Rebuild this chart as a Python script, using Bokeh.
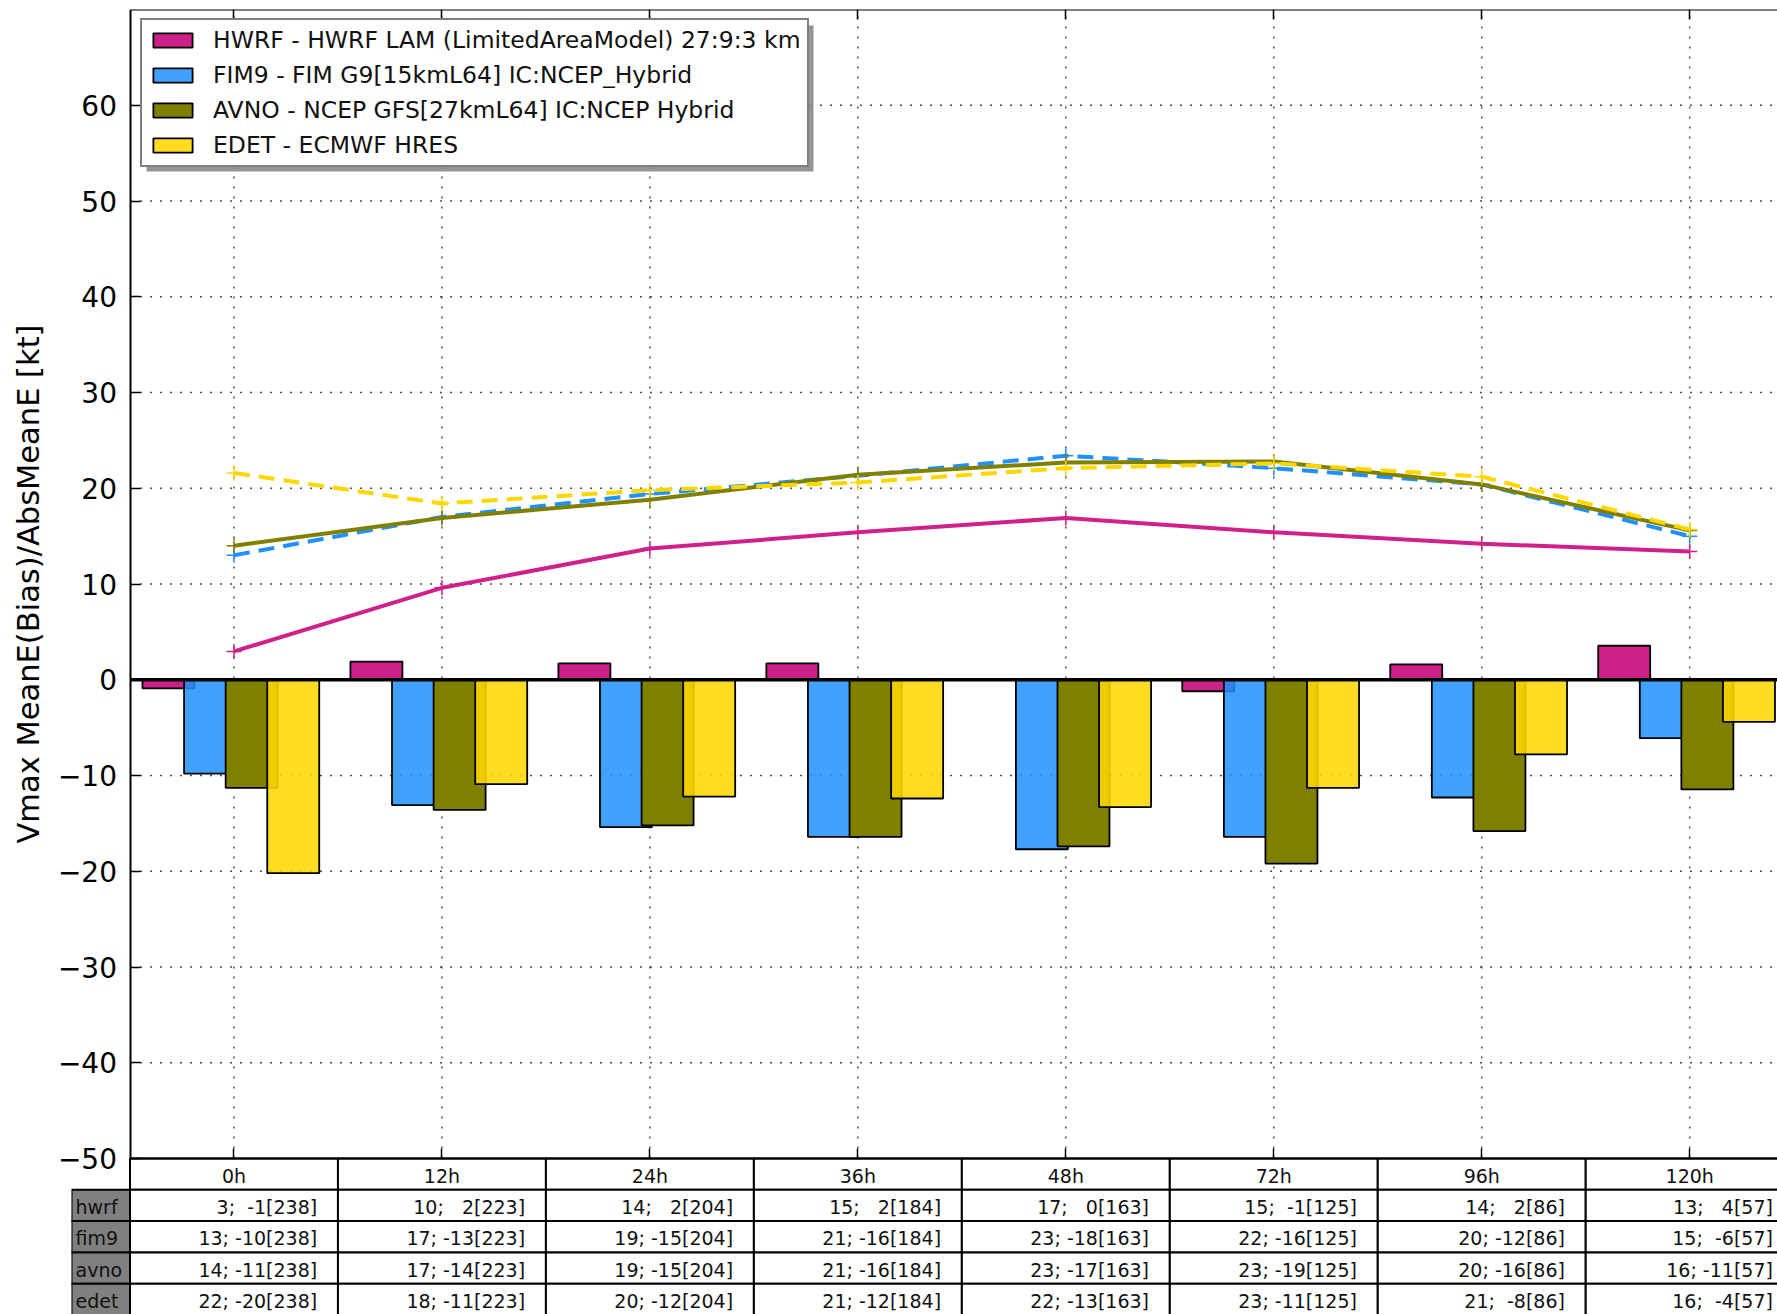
import math

from bokeh.core.properties import value
from bokeh.embed import file_html
from bokeh.models import (BoxAnnotation, ColumnDataSource, CustomJSTickFormatter,
                          FixedTicker, Legend, LegendItem, LinearAxis, Range1d)
from bokeh.plotting import figure
from bokeh.resources import INLINE
from bokeh.transform import dodge

# ---- data -----------------------------------------------------------------
hours = ["0h", "12h", "24h", "36h", "48h", "72h", "96h", "120h"]
cases = [238, 223, 204, 184, 163, 125, 86, 57]

models = ["hwrf", "fim9", "avno", "edet"]
model_names = [
    "HWRF - HWRF LAM (LimitedAreaModel) 27:9:3 km",
    "FIM9 - FIM G9[15kmL64] IC:NCEP_Hybrid",
    "AVNO - NCEP GFS[27kmL64] IC:NCEP Hybrid",
    "EDET - ECMWF HRES",
]

# mean absolute error of Vmax [kt]
hwrf_abs = [2.96, 9.6, 13.7, 15.4, 16.9, 15.4, 14.2, 13.4]
fim9_abs = [13.0, 17.0, 19.4, 21.3, 23.4, 22.1, 20.4, 15.0]
avno_abs = [14.0, 16.9, 18.8, 21.4, 22.7, 22.8, 20.4, 15.6]
edet_abs = [21.6, 18.4, 19.8, 20.6, 22.1, 22.6, 21.2, 15.7]

# mean error (bias) of Vmax [kt]
hwrf_bias = [-0.9, 1.9, 1.7, 1.7, 0.1, -1.2, 1.6, 3.55]
fim9_bias = [-9.8, -13.1, -15.4, -16.4, -17.7, -16.4, -12.3, -6.1]
avno_bias = [-11.3, -13.6, -15.2, -16.4, -17.4, -19.2, -15.8, -11.45]
edet_bias = [-20.2, -10.9, -12.2, -12.4, -13.3, -11.3, -7.8, -4.4]

abs_err = [hwrf_abs, fim9_abs, avno_abs, edet_abs]
bias = [hwrf_bias, fim9_bias, avno_bias, edet_bias]

y_ticks = list(range(-50, 61, 10))
y_tick_labels = [("\u2212" + str(-t)) if t < 0 else str(t) for t in y_ticks]
Y_MIN, Y_MAX = -50, 70
y_title = "Vmax MeanE(Bias)/AbsMeanE [kt]"

# ---- geometry / style -------------------------------------------------------
FONT = "DejaVu Sans"
W, H = 1777, 1314
FRAME_LEFT, AXIS_LEFT, FRAME_TOP, AXIS_BOTTOM = 71, 129.5, 9, 1158
PX_PER_X = 207.96
ROW_PX = 31.3

bar_colors = ["#CE2089", "#1E90FF", "#808000", "#FFD700"]
bar_alpha = [1.0, 0.85, 1.0, 0.87]
line_colors = ["#D0208A", "#1E90FF", "#808000", "#FFD700"]
line_dashes = ["solid", "16 9", "solid", "16 9"]
bar_offsets = [-0.315, -0.115, 0.085, 0.285]
BAR_W = 0.25

idx = list(range(len(hours)))
x_axis_pos = -0.5
x_start = x_axis_pos - (AXIS_LEFT - FRAME_LEFT) / PX_PER_X
x_end = x_start + (W - FRAME_LEFT) / PX_PER_X
px_per_y = (AXIS_BOTTOM - FRAME_TOP) / (Y_MAX - Y_MIN)
y_start = Y_MIN - (H - AXIS_BOTTOM) / px_per_y


def sx(px):
    """canvas x pixel -> data x"""
    return x_start + (px - FRAME_LEFT) / PX_PER_X


def sy(py):
    """canvas y pixel -> data y"""
    return Y_MAX - (py - FRAME_TOP) / px_per_y


blank_fmt = CustomJSTickFormatter(code="return '';")

p = figure(width=W, height=H,
           x_range=Range1d(x_start, x_end), y_range=Range1d(y_start, Y_MAX),
           output_backend="svg", toolbar_location=None,
           min_border_left=FRAME_LEFT, min_border_right=0,
           min_border_top=FRAME_TOP, min_border_bottom=0)
p.outline_line_color = None
p.background_fill_color = "white"
p.border_fill_color = "white"
p.grid.visible = False

# table rows live on their own vertical range: row 0 is the header
p.extra_y_ranges = {"table": Range1d(start=(H - AXIS_BOTTOM) / ROW_PX,
                                     end=-(AXIS_BOTTOM - FRAME_TOP) / ROW_PX)}

# ---- axes ---------------------------------------------------------------------
ya = p.yaxis[0]
ya.fixed_location = x_axis_pos
ya.bounds = (Y_MIN, Y_MAX)
ya.ticker = FixedTicker(ticks=y_ticks)
ya.formatter = blank_fmt
ya.major_label_text_font_size = "0px"
ya.major_tick_in = 10
ya.major_tick_out = 0
ya.minor_tick_in = 0
ya.minor_tick_out = 0
ya.major_tick_line_width = 1.5
ya.axis_line_width = 2

# tick labels and axis title, drawn left of the y axis line
p.text(x=[x_axis_pos - 13 / PX_PER_X] * len(y_ticks), y=y_ticks,
       text=y_tick_labels, text_align="right", text_baseline="middle",
       text_font=value(FONT), text_font_size="28px", text_color="black",
       level="annotation")
p.text(x=[sx(28)], y=[(Y_MIN + Y_MAX) / 2], text=[y_title],
       angle=math.pi / 2, text_align="center", text_baseline="middle",
       text_font=value(FONT), text_font_size="30.5px", text_color="black",
       level="annotation")


def style_x_axis(ax, loc):
    ax.fixed_location = loc
    ax.bounds = (x_axis_pos, x_end)
    ax.ticker = FixedTicker(ticks=idx)
    ax.formatter = blank_fmt
    ax.major_label_text_font_size = "0px"
    ax.major_label_standoff = 0
    ax.major_tick_in = 10
    ax.major_tick_out = 0
    ax.minor_tick_in = 0
    ax.minor_tick_out = 0
    ax.major_tick_line_width = 1.5
    ax.axis_line_width = 2


style_x_axis(p.xaxis[0], Y_MIN)
top_axis = LinearAxis()
style_x_axis(top_axis, Y_MAX)
p.add_layout(top_axis, "above")

# ---- dotted grid inside the chart area ---------------------------------------
grid_style = dict(line_color="#222222", line_alpha=0.8, line_dash="2 8",
                  line_width=1.5)
gy = [t for t in y_ticks if t != Y_MIN]
p.segment(x0=[x_axis_pos] * len(gy), x1=[x_end] * len(gy), y0=gy, y1=gy,
          **grid_style)
p.segment(x0=idx, x1=idx, y0=[Y_MIN] * len(idx), y1=[Y_MAX] * len(idx),
          **grid_style)

# ---- bars and lines -------------------------------------------------------------
src = ColumnDataSource(dict(
    x=idx,
    **{f"{m}_abs": a for m, a in zip(models, abs_err)},
    **{f"{m}_bias": b for m, b in zip(models, bias)},
))

legend_items = []
for m, name, col, alpha, off in zip(models, model_names, bar_colors,
                                    bar_alpha, bar_offsets):
    r = p.vbar(x=dodge("x", off), top=f"{m}_bias", bottom=0, width=BAR_W,
               source=src, fill_color=col, fill_alpha=alpha,
               line_color="black", line_width=1.8)
    legend_items.append(LegendItem(label=name, renderers=[r]))

p.segment(x0=[x_axis_pos], x1=[x_end], y0=[0], y1=[0], line_color="black",
          line_width=3.5)

for m, col, dash in zip(models, line_colors, line_dashes):
    p.line(x="x", y=f"{m}_abs", source=src, line_color=col,
           line_width=4, line_dash=dash)
    p.scatter(x="x", y=f"{m}_abs", source=src, marker="cross", size=15,
              line_color=col, line_width=1.5)

# drop shadow behind the legend box
p.add_layout(BoxAnnotation(left=sx(146), right=sx(813), top=sy(25),
                           bottom=sy(171), fill_color="#8a8a8a",
                           fill_alpha=0.9, line_color=None))

legend = Legend(items=legend_items, location=(69, 1147),
                padding=6, spacing=7, glyph_width=49, glyph_height=18,
                label_height=26, label_standoff=16,
                label_text_font=FONT, label_text_font_size="23.5px",
                label_text_color="#111111",
                border_line_color="black", border_line_width=2,
                background_fill_color="white", background_fill_alpha=1.0)
p.add_layout(legend)

# ---- statistics table under the chart ---------------------------------------
def rnd(v):
    return int(math.floor(v + 0.5))


cell = dict(width=1, height=1, fill_color="white", line_color="black",
            line_width=2, y_range_name="table")
txt = dict(text_baseline="middle", text_font=value(FONT),
           text_font_size="19px", text_color="#111111", y_range_name="table")

p.rect(x=idx, y=[0.5] * len(idx), **cell)
p.text(x=idx, y=[0.55] * len(idx), text=hours, text_align="center", **txt)

label_w = (AXIS_LEFT - FRAME_LEFT) / PX_PER_X
for r, (m, a_vals, b_vals) in enumerate(zip(models, abs_err, bias)):
    yc = r + 1.5
    p.rect(x=idx, y=[yc] * len(idx), **cell)
    texts = [f"{rnd(a)};{rnd(b):4d}[{n}]".replace(" ", "\u00a0")
             for a, b, n in zip(a_vals, b_vals, cases)]
    p.text(x=[i + 0.4 for i in idx], y=[yc + 0.05] * len(idx), text=texts,
           text_align="right", **txt)
    p.rect(x=[x_axis_pos - label_w / 2], y=[yc], width=label_w, height=1,
           fill_color="#808080", line_color="black", line_width=2,
           y_range_name="table")
    p.text(x=[x_axis_pos - label_w + 4 / PX_PER_X], y=[yc + 0.05], text=[m],
           text_align="left", **txt)

open("out.html", "w").write(file_html(p, INLINE))
